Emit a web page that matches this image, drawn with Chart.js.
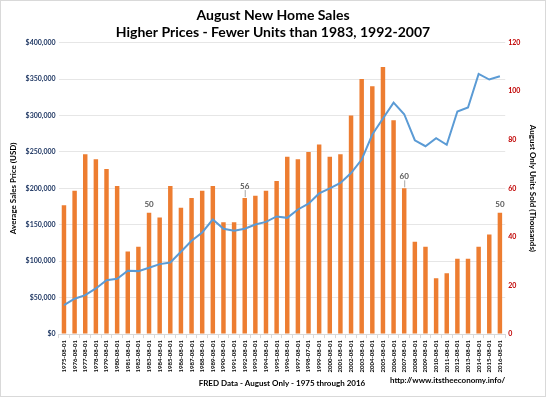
<!DOCTYPE html>
<html>
<head>
<meta charset="utf-8">
<script src="https://cdn.jsdelivr.net/npm/chart.js@4"></script>
<style>
  html, body { margin: 0; padding: 0; background: #fff; }
  #wrap { position: relative; width: 544px; height: 395px; border: 1px solid #d9d9d9; }
</style>
</head>
<body>
<div id="wrap"><canvas id="salesChart" width="544" height="395"></canvas></div>
<script>
// Dates (August of each year)
const dates = [
  "1975-08-01", "1976-08-01", "1977-08-01", "1978-08-01", "1979-08-01", "1980-08-01",
  "1981-08-01", "1982-08-01", "1983-08-01", "1984-08-01", "1985-08-01", "1986-08-01",
  "1987-08-01", "1988-08-01", "1989-08-01", "1990-08-01", "1991-08-01", "1992-08-01",
  "1993-08-01", "1994-08-01", "1995-08-01", "1996-08-01", "1997-08-01", "1998-07-01",
  "1999-08-01", "2000-08-01", "2001-08-01", "2002-08-01", "2003-08-01", "2004-08-01",
  "2005-08-01", "2006-08-01", "2007-08-01", "2008-08-01", "2009-08-01", "2010-08-01",
  "2011-08-01", "2012-08-01", "2013-08-01", "2014-08-01", "2015-08-01", "2016-08-01"
];

// August units sold (thousands) - right axis
const unitsSold = [
  53, 59, 74, 72, 68, 61, 34, 36, 50, 48, 61, 52, 56, 59, 61, 46, 46, 56, 57, 59, 63,
  73, 72, 75, 78, 73, 74, 90, 105, 102, 110, 88, 60, 38, 36, 23, 25, 31, 31, 36, 41, 50
];

// Average sales price (USD) - left axis
const avgPrice = [
  39800, 48500, 53500, 62600, 74000, 75900, 86900, 86400, 91000, 96000, 98300, 112900,
  128000, 139400, 157300, 144500, 141700, 144500, 150400, 154000, 161400, 159500, 171000,
  179000, 193000, 200000, 207500, 221000, 239500, 273800, 295800, 317700, 301700, 266000,
  257800, 268800, 259700, 305400, 310900, 357000, 349300, 353800
];

// Bars that carry a value label
const labelledBars = [8, 17, 32, 41];

const fontFamily = "Lato, 'Open Sans', sans-serif";

// Value labels above selected bars, plus the source URL
const barLabels = {
  id: "barLabels",
  afterDatasetsDraw(chart) {
    const ctx = chart.ctx;
    const meta = chart.getDatasetMeta(1);
    ctx.save();
    ctx.font = "bold 8px " + fontFamily;
    ctx.fillStyle = "#595959";
    ctx.textAlign = "center";
    ctx.textBaseline = "bottom";
    labelledBars.forEach((i) => {
      const bar = meta.data[i];
      const leader = i === 17 || i === 32;
      const gap = leader ? 8 : 4;
      if (leader) {
        ctx.strokeStyle = "#a6a6a6";
        ctx.lineWidth = 1;
        ctx.beginPath();
        ctx.moveTo(bar.x + 0.5, bar.y - 1);
        ctx.lineTo(bar.x + 0.5, bar.y - gap);
        ctx.stroke();
      }
      ctx.fillText(unitsSold[i], bar.x, bar.y - gap);
    });
    ctx.restore();
  },
  afterDraw(chart) {
    const ctx = chart.ctx;
    ctx.save();
    ctx.font = "bold 8px " + fontFamily;
    ctx.fillStyle = "#000";
    ctx.textAlign = "right";
    ctx.textBaseline = "middle";
    ctx.fillText("http://www.itstheeconomy.info/", chart.chartArea.right, 379);
    ctx.restore();
  },
};

const ctx = document.getElementById("salesChart").getContext("2d");
const salesChart = new Chart(ctx, {
  type: "bar",
  data: {
    labels: dates,
    datasets: [
      {
        type: "line",
        label: "Average Sales Price",
        data: avgPrice,
        yAxisID: "y",
        borderColor: "#5b9bd5",
        borderWidth: 2,
        pointRadius: 0,
        tension: 0,
        order: 0,
      },
      {
        type: "bar",
        label: "Units Sold",
        data: unitsSold,
        yAxisID: "y1",
        backgroundColor: "#ed7d31",
        barPercentage: 0.42,
        categoryPercentage: 1,
        order: 1,
      },
    ],
  },
  options: {
    responsive: false,
    animation: false,
    layout: { padding: { left: 4, right: 4, top: 0, bottom: 8 } },
    plugins: {
      legend: { display: false },
      tooltip: { enabled: false },
      title: {
        display: true,
        text: ["August New Home Sales", "Higher Prices - Fewer Units than 1983, 1992-2007"],
        color: "#000",
        font: { family: fontFamily, size: 14, weight: "bold", lineHeight: 1.2 },
        padding: { top: 6, bottom: 2 },
      },
    },
    scales: {
      x: {
        offset: true,
        grid: { display: true, drawOnChartArea: false, tickLength: 4, color: "#d9d9d9", offset: true },
        border: { color: "#d9d9d9" },
        ticks: {
          autoSkip: false,
          minRotation: 90,
          maxRotation: 90,
          color: "#000",
          padding: 2,
          font: { family: fontFamily, size: 6, weight: "bold" },
        },
        title: {
          display: true,
          text: "FRED Data - August Only - 1975 through 2016",
          color: "#000",
          font: { family: fontFamily, size: 8, weight: "bold" },
          padding: { top: 4, bottom: 0 },
        },
      },
      y: {
        position: "left",
        min: 0,
        max: 400000,
        ticks: {
          stepSize: 50000,
          color: "#203864",
          font: { family: fontFamily, size: 7, weight: "bold" },
          callback: (v) => "$" + v.toLocaleString("en-US"),
        },
        grid: { color: "#e6e6e6", drawTicks: false },
        border: { display: false },
        title: {
          display: true,
          text: "Average Sales Price (USD)",
          color: "#000",
          font: { family: fontFamily, size: 8, weight: "bold" },
        },
      },
      y1: {
        position: "right",
        min: 0,
        max: 120,
        ticks: {
          stepSize: 20,
          color: "#c00000",
          font: { family: fontFamily, size: 7, weight: "bold" },
        },
        grid: { drawOnChartArea: false, drawTicks: false },
        border: { display: false },
        title: {
          display: true,
          text: "August Only Units Sold (Thousands)",
          color: "#000",
          font: { family: fontFamily, size: 8, weight: "bold" },
        },
      },
    },
  },
  plugins: [barLabels],
});
</script>
</body>
</html>
